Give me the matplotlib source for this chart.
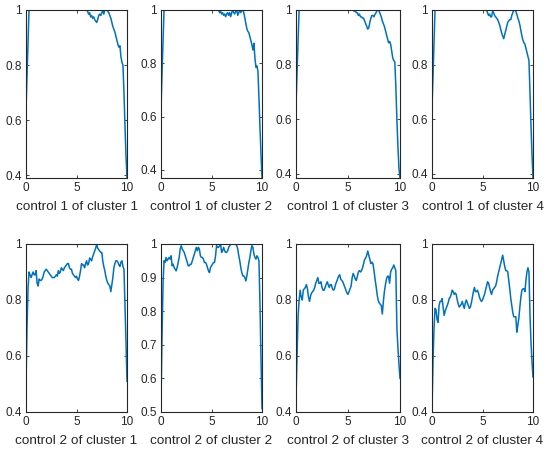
import numpy as np
import matplotlib
matplotlib.use("Agg")
import matplotlib.pyplot as plt

# time axis shared by every panel (0 .. 10, step 0.1)
t = np.linspace(0, 10, 101)

# control 1, clusters 1-4
c1_k1 = [0.64, 0.76, 0.88] + [1.0] * 58 + [
    0.995, 0.985, 0.99, 0.975, 0.98, 0.97, 0.975, 0.965, 0.96, 0.955,
    0.965, 0.98, 0.985, 0.98, 0.99, 1.0, 0.985, 1.0, 1.0, 1.0,
    0.995, 0.99, 0.98, 0.97, 0.955, 0.94, 0.93, 0.92, 0.905, 0.89,
    0.875, 0.865, 0.87, 0.83, 0.81, 0.80, 0.70, 0.58, 0.47, 0.39]
c1_k2 = [0.63, 0.76, 0.88] + [1.0] * 55 + [
    0.99, 0.995, 0.985, 0.99, 0.98, 0.985, 0.975, 0.985, 0.99, 0.98, 0.99, 0.975, 0.99,
    1.0, 0.99, 0.985, 0.995, 1.0, 0.98, 0.99, 1.0, 0.99, 1.0,
    1.0, 0.99, 0.97, 0.95, 0.93, 0.92, 0.915, 0.90, 0.885, 0.87,
    0.85, 0.875, 0.82, 0.785, 0.79, 0.77, 0.67, 0.56, 0.46, 0.37]
c1_k3 = [0.65, 0.77, 0.89] + [1.0] * 53 + [
    0.995, 1.0, 0.99, 0.99, 0.98,
    0.985, 0.975, 0.975, 0.97, 0.97, 0.96, 0.95, 0.94, 0.93, 0.935,
    0.955, 0.97, 0.98, 0.98, 0.975, 0.985, 0.99, 1.0, 1.0, 0.995,
    0.985, 0.975, 0.96, 0.95, 0.94, 0.925, 0.91, 0.895, 0.88, 0.885,
    0.875, 0.85, 0.825, 0.815, 0.81, 0.72, 0.60, 0.50, 0.42, 0.385]
c1_k4 = [0.64, 0.76, 0.88] + [1.0] * 52 + [
    0.99, 0.98, 0.985, 0.975, 0.975, 0.995,
    0.99, 0.98, 0.975, 0.97, 0.965, 0.955, 0.945, 0.93, 0.915, 0.905,
    0.895, 0.91, 0.925, 0.94, 0.955, 0.96, 0.965, 0.965, 0.98, 0.99,
    1.0, 1.0, 0.995, 0.985, 0.97, 0.96, 0.945, 0.925, 0.905, 0.89,
    0.88, 0.875, 0.86, 0.845, 0.83, 0.815, 0.70, 0.58, 0.47, 0.385]

# control 2, clusters 1-4
c2_k1 = [
    0.50, 0.70, 0.84, 0.90, 0.89, 0.88, 0.89, 0.90, 0.89, 0.89,
    0.905, 0.86, 0.85, 0.875, 0.87, 0.87, 0.875, 0.885, 0.90, 0.905,
    0.91, 0.905, 0.90, 0.895, 0.89, 0.885, 0.88, 0.88, 0.88, 0.885,
    0.89, 0.885, 0.905, 0.895, 0.90, 0.915, 0.91, 0.905, 0.915, 0.92,
    0.925, 0.93, 0.93, 0.915, 0.91, 0.91, 0.895, 0.89, 0.885, 0.88,
    0.885, 0.875, 0.87, 0.885, 0.905, 0.93, 0.925, 0.925, 0.915, 0.93,
    0.94, 0.925, 0.93, 0.95, 0.945, 0.94, 0.955, 0.965, 0.975, 0.985,
    1.0, 0.985, 0.98, 0.975, 0.97, 0.97, 0.94, 0.92, 0.905, 0.885,
    0.87, 0.86, 0.855, 0.85, 0.83, 0.855, 0.88, 0.915, 0.93, 0.94,
    0.94, 0.935, 0.925, 0.92, 0.935, 0.94, 0.92, 0.91, 0.78, 0.65,
    0.51]
c2_k2 = [
    0.53, 0.72, 0.88, 0.95, 0.945, 0.96, 0.95, 0.955, 0.96, 0.955,
    0.965, 0.935, 0.94, 0.93, 0.925, 0.92, 0.93, 0.945, 0.96, 0.985,
    0.995, 0.985, 0.98, 0.975, 0.965, 0.955, 0.945, 0.935, 0.935, 0.94,
    0.94, 0.95, 0.96, 0.97, 0.98, 0.99, 0.98, 0.99, 0.985, 0.965,
    0.96, 0.96, 0.955, 0.945, 0.945, 0.94, 0.93, 0.92, 0.915, 0.93,
    0.935, 0.94, 0.945, 0.945, 0.965, 0.995, 0.99, 0.99, 0.995, 1.0,
    0.975, 0.98, 0.99, 0.98, 0.975, 0.975, 0.98, 0.99, 0.995, 1.0,
    1.0, 1.0, 1.0, 1.0, 1.0, 0.995, 0.985, 0.965, 0.95, 0.93,
    0.915, 0.905, 0.905, 0.90, 0.89, 0.905, 0.925, 0.945, 0.96, 0.98,
    0.995, 0.99, 0.97, 0.96, 0.955, 0.965, 0.96, 0.95, 0.82, 0.66,
    0.51]
c2_k3 = [
    0.45, 0.60, 0.74, 0.80, 0.835, 0.81, 0.80, 0.835, 0.84, 0.845,
    0.855, 0.84, 0.81, 0.795, 0.815, 0.825, 0.83, 0.835, 0.845, 0.86,
    0.87, 0.88, 0.86, 0.86, 0.865, 0.845, 0.835, 0.835, 0.845, 0.855,
    0.865, 0.855, 0.845, 0.855, 0.855, 0.84, 0.835, 0.84, 0.855, 0.865,
    0.875, 0.885, 0.89, 0.875, 0.87, 0.865, 0.855, 0.845, 0.835, 0.825,
    0.82, 0.83, 0.84, 0.85, 0.88, 0.895, 0.885, 0.875, 0.87, 0.885,
    0.90, 0.905, 0.90, 0.905, 0.915, 0.93, 0.945, 0.95, 0.96, 0.975,
    0.96, 0.945, 0.93, 0.935, 0.93, 0.905, 0.875, 0.85, 0.82, 0.80,
    0.79, 0.785, 0.78, 0.75, 0.795, 0.83, 0.855, 0.875, 0.885, 0.885,
    0.86, 0.90, 0.91, 0.915, 0.925, 0.915, 0.905, 0.70, 0.63, 0.57,
    0.52]
c2_k4 = [
    0.41, 0.58, 0.70, 0.77, 0.765, 0.73, 0.72, 0.78, 0.795, 0.795,
    0.805, 0.775, 0.745, 0.76, 0.77, 0.78, 0.79, 0.805, 0.81, 0.82,
    0.835, 0.83, 0.82, 0.825, 0.82, 0.80, 0.785, 0.775, 0.78, 0.785,
    0.795, 0.78, 0.77, 0.79, 0.80, 0.79, 0.78, 0.77, 0.775, 0.79,
    0.81, 0.83, 0.845, 0.83, 0.83, 0.835, 0.825, 0.81, 0.80, 0.795,
    0.80, 0.81, 0.82, 0.835, 0.85, 0.865, 0.86, 0.845, 0.83, 0.82,
    0.835, 0.84, 0.845, 0.85, 0.865, 0.885, 0.90, 0.915, 0.93, 0.945,
    0.96, 0.94, 0.92, 0.905, 0.905, 0.90, 0.87, 0.84, 0.805, 0.78,
    0.755, 0.74, 0.74, 0.74, 0.685, 0.71, 0.735, 0.775, 0.81, 0.835,
    0.84, 0.84, 0.83, 0.87, 0.90, 0.915, 0.90, 0.75, 0.65, 0.58,
    0.525]

series = [c1_k1, c1_k2, c1_k3, c1_k4, c2_k1, c2_k2, c2_k3, c2_k4]
labels = ["control %d of cluster %d" % (c, k) for c in (1, 2) for k in (1, 2, 3, 4)]

# y ranges: top row is tight to data, bottom row uses round limits
ylims = [(min(c1_k1), 1), (min(c1_k2), 1), (min(c1_k3), 1), (min(c1_k4), 1),
         (0.4, 1), (0.5, 1), (0.4, 1), (0.4, 1)]
yticks = [[0.4, 0.6, 0.8, 1]] * 5 + [[0.5, 0.6, 0.7, 0.8, 0.9, 1]] + [[0.4, 0.6, 0.8, 1]] * 2

plt.rcParams["font.family"] = ["Liberation Sans", "DejaVu Sans"]
W, H = 550, 454
fig = plt.figure(figsize=(W / 100, H / 100), dpi=100)

# axes boxes in pixels (left, top, width, height)
lefts = [26, 161, 296, 432]
widths = [101, 101, 104, 101]
tops = [10, 244]
ax_h = 168

dark = "#262626"
for i, (y, lab) in enumerate(zip(series, labels)):
    r, c = divmod(i, 4)
    ax = fig.add_axes([lefts[c] / W, 1 - (tops[r] + ax_h) / H, widths[c] / W, ax_h / H])
    ax.plot(t, y, color="#0072BD", lw=1.1)
    ax.set_xlim(0, 10)
    ax.set_ylim(*ylims[i])
    ax.set_xticks([0, 5, 10])
    ax.set_yticks(yticks[i])
    ax.set_yticklabels(["%g" % v for v in yticks[i]])
    ax.tick_params(direction="in", top=True, right=True, length=2.5, width=0.6,
                   labelsize=8.5, colors=dark, pad=3)
    for s in ax.spines.values():
        s.set_color(dark)
        s.set_linewidth(0.8)
    ax.set_xlabel(lab, fontsize=9.7, color=dark, labelpad=5)

fig.savefig("out.png", dpi=100)
